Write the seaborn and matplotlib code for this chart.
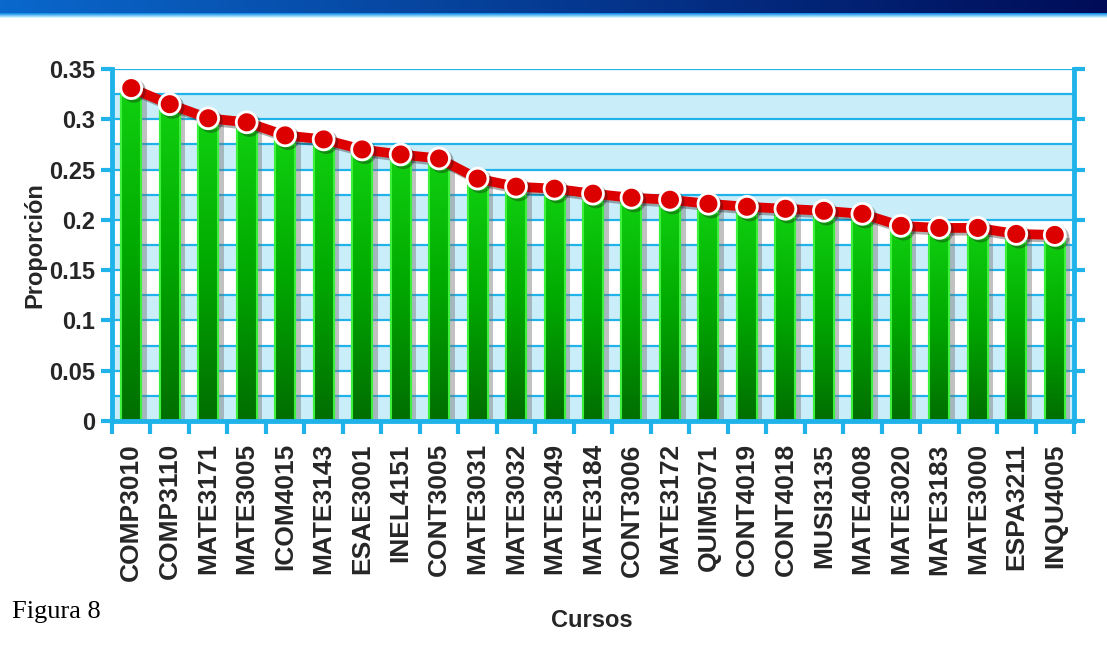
import numpy as np
import pandas as pd
import seaborn as sns
import matplotlib.pyplot as plt
from matplotlib import patheffects as pe
from matplotlib.patches import Rectangle
from matplotlib.ticker import MultipleLocator, FuncFormatter
from matplotlib.colors import LinearSegmentedColormap

# data
cursos = ["COMP3010", "COMP3110", "MATE3171", "MATE3005", "ICOM4015", "MATE3143",
          "ESAE3001", "INEL4151", "CONT3005", "MATE3031", "MATE3032", "MATE3049",
          "MATE3184", "CONT3006", "MATE3172", "QUIM5071", "CONT4019", "CONT4018",
          "MUSI3135", "MATE4008", "MATE3020", "MATE3183", "MATE3000", "ESPA3211",
          "INQU4005"]
proporcion = [0.331, 0.315, 0.301, 0.297, 0.284, 0.280, 0.270, 0.265, 0.261,
              0.241, 0.233, 0.231, 0.226, 0.222, 0.220, 0.216, 0.213, 0.211,
              0.209, 0.206, 0.194, 0.192, 0.192, 0.186, 0.185]

df = pd.DataFrame({"Curso": cursos, "Proporcion": proporcion})

sns.set_theme(style="white")
plt.rcParams["font.family"] = ["Liberation Sans", "DejaVu Sans"]

cyan = "#1fb3ea"
band = "#c9edf9"

fig = plt.figure(figsize=(11.07, 6.66), dpi=100)

# header strip
hdr = fig.add_axes([0, 1 - 18 / 666, 1, 18 / 666])
img = np.zeros((18, 300, 3))
left_c = np.array([0x0a, 0x68, 0xcc]) / 255
right_c = np.array([0x00, 0x0c, 0x58]) / 255
t = np.linspace(0, 1, 300)
for r in range(13):
    img[r] = left_c[None, :] * (1 - t[:, None]) + right_c[None, :] * t[:, None]
top_c = np.array([0x18, 0x90, 0xe8]) / 255
bot_c = np.array([0xd0, 0xf6, 0xff]) / 255
for i, r in enumerate(range(13, 18)):
    f = i / 4
    img[r] = top_c * (1 - f) + bot_c * f
hdr.imshow(img, aspect="auto", extent=[0, 1, 0, 1])
hdr.axis("off")

ax = fig.add_axes([112 / 1107, 1 - 421 / 666, (1074 - 112) / 1107, (421 - 69) / 666])

# alternating bands
for k in range(0, 14, 2):
    ax.axhspan(k * 0.025, (k + 1) * 0.025, color=band, zorder=0, lw=0)

sns.barplot(data=df, x="Curso", y="Proporcion", color="#00a000", saturation=1,
            width=0.52, edgecolor="#3cf03c", linewidth=1.5, ax=ax, zorder=2)

green = LinearSegmentedColormap.from_list("g", ["#006e00", "#00a800", "#10d010"])
grad = np.linspace(0, 1, 100).reshape(-1, 1)
for p in list(ax.containers[0]):
    x, y0 = p.get_x(), p.get_y()
    w, h = p.get_width(), p.get_height()
    p.set_path_effects([pe.SimplePatchShadow(offset=(4, -2), shadow_rgbFace="#777777", alpha=0.45),
                        pe.Normal()])
    im = ax.imshow(grad, extent=[x, x + w, y0, y0 + h], origin="lower", cmap=green,
                   aspect="auto", zorder=2.1, interpolation="bilinear")
    im.set_clip_path(p)
    ax.add_patch(Rectangle((x, y0), w, h, facecolor="none", edgecolor="#3cf03c",
                           lw=1.5, zorder=2.2))

sns.lineplot(data=df, x="Curso", y="Proporcion", sort=False, color="#dd0000",
             linewidth=7, marker="o", markersize=15, markerfacecolor="#dd0000",
             markeredgecolor="white", markeredgewidth=2, ax=ax, zorder=3,
             path_effects=[pe.SimpleLineShadow(offset=(2, -2), alpha=0.35), pe.Normal()])

ax.set_xlim(-0.5, len(cursos) - 0.5)
ax.set_ylim(0, 0.35)

# grid
ax.yaxis.set_major_locator(MultipleLocator(0.05))
ax.yaxis.set_minor_locator(MultipleLocator(0.025))
ax.yaxis.set_major_formatter(FuncFormatter(lambda v, _: f"{v:g}"))
ax.grid(axis="y", which="both", color=cyan, lw=1.6, zorder=0.5)
ax.set_axisbelow(True)

for s in ["left", "right", "bottom"]:
    ax.spines[s].set_color(cyan)
    ax.spines[s].set_linewidth(3.5)
    ax.spines[s].set_visible(True)
ax.spines["top"].set_visible(False)

ax.tick_params(axis="y", which="major", left=True, right=True, labelright=False,
               direction="out", length=8, width=3, color=cyan, pad=4)
ax.tick_params(axis="y", which="minor", length=0)
ax.set_xticks(np.arange(-0.5, len(cursos), 1), minor=True)
ax.tick_params(axis="x", which="minor", bottom=True, direction="out", length=9,
               width=3, color=cyan)
ax.tick_params(axis="x", which="major", length=0, pad=16)

for lab in ax.get_yticklabels():
    lab.set_fontsize(17)
    lab.set_fontweight("bold")
ax.set_xticks(range(len(cursos)))
ax.set_xticklabels(cursos, rotation=90, fontsize=19, fontweight="bold")

ax.set_xlabel("Cursos", fontsize=17, fontweight="bold")
ax.set_ylabel("Proporción", fontsize=17, fontweight="bold")
ax.xaxis.set_label_coords(0.499, -0.535)
ax.yaxis.set_label_coords(-0.068, 0.5)

fig.text(12 / 1107, 1 - 612 / 666, "Figura 8", family=["Liberation Serif", "DejaVu Serif"],
         fontsize=19, va="center", ha="left", color="black")

fig.savefig("out.png", dpi=100)
